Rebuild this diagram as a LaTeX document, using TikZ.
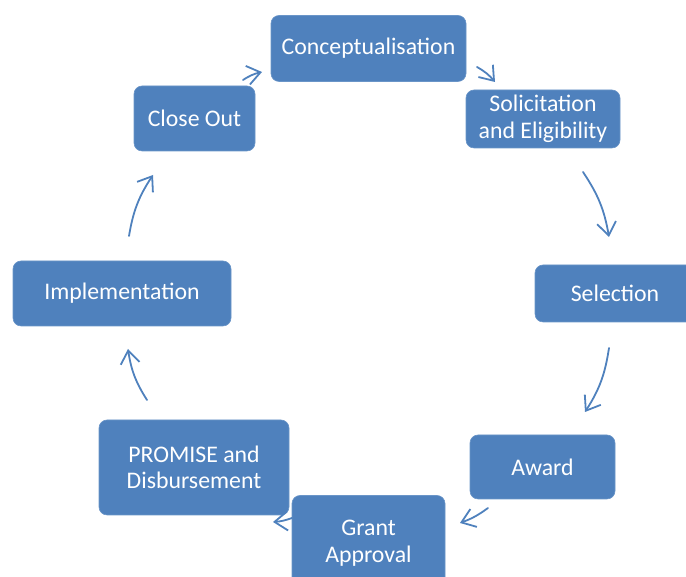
\documentclass[tikz,border=0pt]{standalone}
\usepackage{fontspec}
\setmainfont{Carlito}
\usetikzlibrary{arrows.meta}
\definecolor{boxblue}{HTML}{4F81BD}
\definecolor{boxedge}{HTML}{6A95C8}
\tikzset{
  stage/.style={rectangle, rounded corners=8pt, fill=boxblue, draw=boxedge, line width=0.6pt,
    text=white, align=center, inner sep=0pt,
    font=\fontsize{23.8pt}{26.5pt}\selectfont},
  flow/.style={draw=boxblue, line width=1.8pt, line cap=round,
    -{Straight Barb[length=13pt,width=19pt,line width=1.8pt]}}
}
\begin{document}
\begin{tikzpicture}[x=1pt,y=1pt]
\useasboundingbox (0,0) rectangle (686,577);
\begin{scope}
\clip (0,0) rectangle (686,577);
\node[stage, minimum width=195pt, minimum height=66pt] (concept) at (368.5,528.5) {Conceptualisation};
\node[stage, minimum width=154pt, minimum height=58pt] (solic) at (543,458) {Solicitation\\and Eligibility};
\node[stage, minimum width=121pt, minimum height=65pt] (close) at (194.5,458.5) {Close Out};
\node[stage, minimum width=160pt, minimum height=57pt] (select) at (615,283.5) {Selection};
\node[stage, minimum width=218pt, minimum height=65pt] (impl) at (122,283.5) {Implementation};
\node[stage, minimum width=145pt, minimum height=64pt] (award) at (542.5,110) {Award};
\node[stage, minimum width=190pt, minimum height=95pt] (promise) at (194,109.5) {PROMISE and\\Disbursement};
\node[stage, minimum width=153pt, minimum height=95pt] (grant) at (368.5,34) {Grant\\Approval};
\end{scope}
\coordinate (a1s) at (243,497); \coordinate (a1e) at (262,505);
\coordinate (a2s) at (477,510); \coordinate (a2e) at (495,495);
\coordinate (a3s) at (583,405); \coordinate (a3e) at (609,340);
\coordinate (a4s) at (609,229); \coordinate (a4e) at (585,165);
\coordinate (a5s) at (488,69);  \coordinate (a5e) at (460,54);
\coordinate (a6s) at (292,59);  \coordinate (a6e) at (273,55);
\coordinate (a7s) at (147,177); \coordinate (a7e) at (128,228);
\coordinate (a8s) at (129,341); \coordinate (a8e) at (153,402);
\draw[flow] (a1s) to[bend left=10] (a1e);
\draw[flow] (a2s) to[bend left=10] (a2e);
\draw[flow] (a3s) to[bend left=12] (a3e);
\draw[flow] (a4s) to[bend left=12] (a4e);
\draw[flow] (a5s) to[bend left=8] (a5e);
\draw[flow] (a6s) to[bend left=8] (a6e);
\draw[flow] (a7s) to[bend left=12] (a7e);
\draw[flow] (a8s) to[bend left=12] (a8e);
\end{tikzpicture}
\end{document}
